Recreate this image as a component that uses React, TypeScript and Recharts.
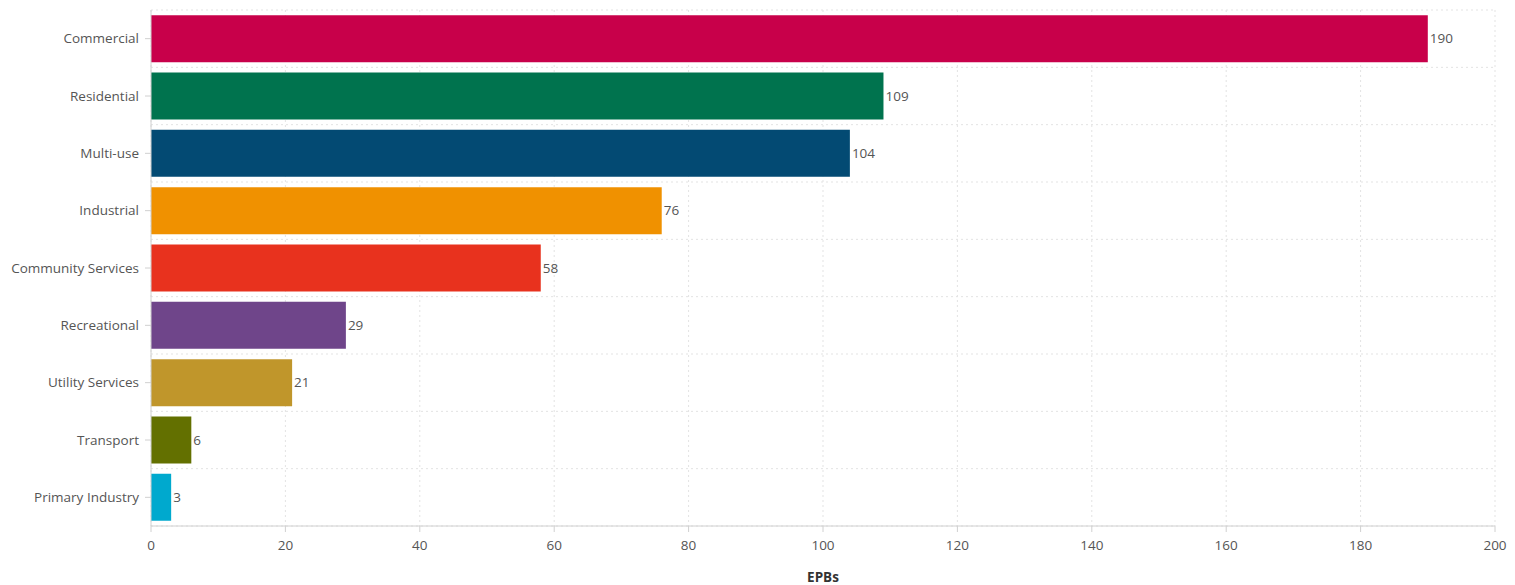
import React from "react";
import { BarChart, Bar, XAxis, YAxis, CartesianGrid, Cell, LabelList } from "recharts";

const categories = [
  "Commercial",
  "Residential",
  "Multi-use",
  "Industrial",
  "Community Services",
  "Recreational",
  "Utility Services",
  "Transport",
  "Primary Industry",
];
const counts = [190, 109, 104, 76, 58, 29, 21, 6, 3];
const colors = [
  "#C8004A",
  "#00734E",
  "#034A73",
  "#F09100",
  "#E8321E",
  "#6F458A",
  "#C0962B",
  "#637000",
  "#00A9CE",
];
const xTicks = [0, 20, 40, 60, 80, 100, 120, 140, 160, 180, 200];

const data = categories.map((name, i) => ({ name, value: counts[i] }));

const font = "'Open Sans', 'Noto Sans', sans-serif";

const App = () => {
  // horizontal grid lines sit between the bars, not at their centres
  const bandLines = ({ offset }: any) => {
    const step = offset.height / categories.length;
    return categories.map((_, i) => offset.top + i * step).concat(offset.top + offset.height);
  };

  return (
    <div style={{ position: "absolute", left: 0, top: 0, background: "#fff", fontFamily: font }}>
      <BarChart
        width={1515}
        height={585}
        data={data}
        layout="vertical"
        margin={{ top: 10, right: 20, bottom: 0, left: 0 }}
        barCategoryGap="9%"
      >
        <CartesianGrid
          stroke="#e3e3e3"
          strokeDasharray="2 3"
          horizontalCoordinatesGenerator={bandLines}
        />
        <XAxis
          type="number"
          domain={[0, 200]}
          ticks={xTicks}
          height={59}
          tickSize={6}
          tickMargin={8}
          stroke="#d0d0d0"
          tick={{ fill: "#555", fontSize: 13.5, fontFamily: font }}
          label={{
            value: "EPBs",
            position: "insideBottom",
            offset: 3,
            fill: "#333",
            fontSize: 13.5,
            fontWeight: 700,
            fontFamily: font,
          }}
        />
        <YAxis
          type="category"
          dataKey="name"
          width={151}
          tickSize={6}
          tickMargin={6}
          stroke="#d0d0d0"
          tick={{ fill: "#555", fontSize: 13.5, fontFamily: font }}
        />
        <Bar dataKey="value" isAnimationActive={false}>
          {data.map((d, i) => (
            <Cell key={d.name} fill={colors[i]} />
          ))}
          <LabelList
            dataKey="value"
            position="right"
            offset={2}
            fill="#555"
            fontSize={13.5}
            fontFamily={font}
          />
        </Bar>
      </BarChart>
    </div>
  );
};

export default App;
